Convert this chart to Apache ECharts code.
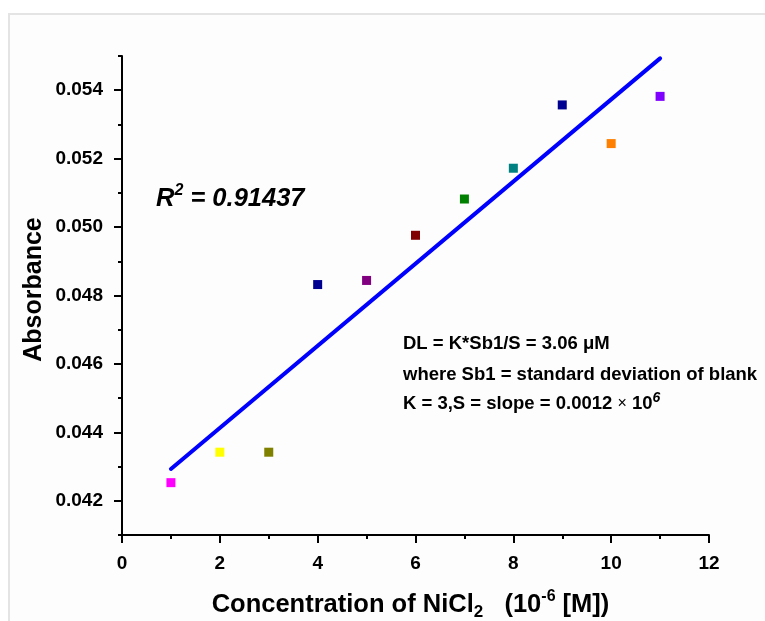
<!DOCTYPE html>
<html>
<head>
<meta charset="utf-8">
<title>NiCl2 calibration</title>
<script src="https://cdn.jsdelivr.net/npm/echarts@6/dist/echarts.min.js"></script>
<style>
  html, body { margin: 0; padding: 0; background: #fff; }
  #chart { width: 765px; height: 621px; }
</style>
</head>
<body>
<div id="chart"></div>
<script>
// 浓度 (10^-6 M) 与吸光度
const concentration = [1, 2, 3, 4, 5, 6, 7, 8, 9, 10, 11]
const absorbance = [0.04253, 0.04342, 0.04342, 0.04832, 0.04844, 0.04976, 0.05082, 0.05172, 0.05357, 0.05244, 0.05382]
const pointColors = ['#FF00FF', '#FFFF00', '#808000', '#000090', '#800080', '#800000', '#008000', '#008080', '#000090', '#FF8000', '#8000FF']
// 线性拟合
const fitX = [1, 11]
const fitY = [0.04293, 0.05493]
const yLabelValues = [0.042, 0.044, 0.046, 0.048, 0.050, 0.052, 0.054]

const font = 'Liberation Sans, Arial, sans-serif'

const chartDom = document.getElementById('chart')
const chart = echarts.init(chartDom, null, { renderer: 'canvas' })

const option = {
  animation: false,
  backgroundColor: '#fff',
  textStyle: { fontFamily: font },
  grid: { left: 122, right: 56, top: 56, bottom: 86, outerBoundsMode: 'none', containLabel: false },
  graphic: [
    {
      type: 'rect',
      silent: true,
      z: -10,
      shape: { x: 9, y: 14, width: 820, height: 700 },
      style: { fill: '#fdfdfd', stroke: '#e4e4e4', lineWidth: 2 },
    },
    {
      type: 'text',
      x: 156,
      y: 199,
      style: {
        text: '{a|R}{sup|2}{a| = 0.91437}',
        verticalAlign: 'middle',
        rich: {
          a: { fontSize: 25.5, fontWeight: 'bold', fontStyle: 'italic', fontFamily: font, lineHeight: 32, fill: '#000' },
          sup: { fontSize: 16, fontWeight: 'bold', fontStyle: 'italic', fontFamily: font, lineHeight: 16, verticalAlign: 'top', fill: '#000' },
        },
      },
    },
    {
      type: 'text',
      x: 403,
      y: 344,
      style: {
        text: 'DL = K*Sb1/S = 3.06 μM',
        font: `bold 18.5px ${font}`,
        fill: '#000',
        verticalAlign: 'middle',
      },
    },
    {
      type: 'text',
      x: 403,
      y: 375,
      style: {
        text: 'where Sb1 = standard deviation of blank',
        font: `bold 18.5px ${font}`,
        fill: '#000',
        verticalAlign: 'middle',
      },
    },
    {
      type: 'text',
      x: 403,
      y: 404,
      style: {
        text: '{a|K = 3,S = slope = 0.0012 }{x|×}{a| 10}{sup|6}',
        verticalAlign: 'middle',
        rich: {
          a: { fontSize: 18.5, fontWeight: 'bold', fontFamily: font, lineHeight: 26, fill: '#000' },
          x: { fontSize: 16, fontFamily: font, lineHeight: 26, fill: '#000' },
          sup: { fontSize: 14, fontWeight: 'bold', fontStyle: 'italic', fontFamily: font, lineHeight: 12, verticalAlign: 'top', fill: '#000' },
        },
      },
    },
  ],
  xAxis: {
    type: 'value',
    min: 0,
    max: 12,
    interval: 2,
    name: '{a|Concentration of NiCl}{sub|2}{a|   (10}{sup|-6}{a| [M])}',
    nameLocation: 'middle',
    nameGap: 54,
    nameTextStyle: {
      padding: [0, 10, 0, 0],
      rich: {
        a: { fontSize: 25.5, fontWeight: 'bold', fontFamily: font, lineHeight: 32, color: '#000' },
        sub: { fontSize: 17, fontWeight: 'bold', fontFamily: font, lineHeight: 15, verticalAlign: 'bottom', color: '#000' },
        sup: { fontSize: 16, fontWeight: 'bold', fontFamily: font, lineHeight: 16, verticalAlign: 'top', color: '#000' },
      },
    },
    axisLine: { lineStyle: { color: '#000', width: 2 } },
    axisTick: { length: 8, lineStyle: { color: '#000', width: 2 } },
    minorTick: { show: true, splitNumber: 2, length: 4, lineStyle: { color: '#000', width: 2 } },
    axisLabel: { margin: 19, fontSize: 19, fontWeight: 'bold', color: '#000', fontFamily: font },
    splitLine: { show: false },
  },
  yAxis: [
    {
      type: 'value',
      min: 0.041,
      max: 0.055,
      interval: 0.001,
      position: 'left',
      name: 'Absorbance',
      nameLocation: 'middle',
      nameGap: 75,
      nameTextStyle: { fontSize: 25, fontWeight: 'bold', color: '#000', fontFamily: font, padding: [0, 0, 0, 12] },
      axisLine: { show: true, lineStyle: { color: '#000', width: 2 } },
      axisTick: { show: true, length: 4, lineStyle: { color: '#000', width: 2 } },
      axisLabel: { show: false },
      splitLine: { show: false },
    },
    {
      type: 'value',
      min: 0.041,
      max: 0.055,
      interval: 0.001,
      position: 'left',
      axisLine: { show: false },
      axisTick: { show: true, length: 8, customValues: yLabelValues, lineStyle: { color: '#000', width: 2 } },
      axisLabel: {
        customValues: yLabelValues,
        margin: 19,
        fontSize: 19,
        fontWeight: 'bold',
        color: '#000',
        fontFamily: font,
        formatter: (v) => v.toFixed(3),
      },
      splitLine: { show: false },
    },
  ],
  series: [
    {
      name: 'fit',
      type: 'line',
      yAxisIndex: 0,
      data: fitX.map((x, i) => [x, fitY[i]]),
      showSymbol: false,
      symbol: 'none',
      lineStyle: { color: '#0000FF', width: 4, cap: 'round' },
      z: 2,
    },
    {
      name: 'Absorbance',
      type: 'scatter',
      yAxisIndex: 0,
      symbol: 'rect',
      symbolSize: 9,
      data: concentration.map((x, i) => ({
        value: [x, absorbance[i]],
        itemStyle: { color: pointColors[i], opacity: 1 },
      })),
      z: 3,
    },
  ],
}

chart.setOption(option)
</script>
</body>
</html>
